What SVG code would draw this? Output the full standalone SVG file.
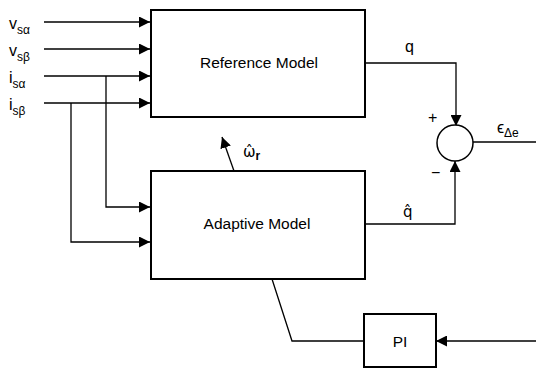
<svg xmlns="http://www.w3.org/2000/svg" width="536" height="368" viewBox="0 0 536 368">
<style>
.box{fill:#fff;stroke:#000;stroke-width:2}
.ln{fill:none;stroke:#000;stroke-width:1.3}
.t{font-family:"Liberation Sans",Arial,sans-serif;font-size:15.5px;fill:#000}
.lb{font-family:"Liberation Sans",Arial,sans-serif;font-size:16px;fill:#000}
.hat{font-family:"DejaVu Sans",sans-serif;font-size:15px;fill:#000}
.sub{font-size:12px}
</style>
<defs>
<marker id="ah" viewBox="0 0 10 10" refX="10" refY="5" markerWidth="11" markerHeight="11" markerUnits="userSpaceOnUse" orient="auto">
<path d="M0,0 L10,5 L0,10 Z" fill="#000"/>
</marker>
</defs>
<g id="connectors">
<line class="ln" x1="44" y1="22" x2="150" y2="22" marker-end="url(#ah)"/>
<line class="ln" x1="44" y1="49" x2="150" y2="49" marker-end="url(#ah)"/>
<line class="ln" x1="44" y1="76" x2="150" y2="76" marker-end="url(#ah)"/>
<line class="ln" x1="44" y1="103" x2="150" y2="103" marker-end="url(#ah)"/>
<polyline class="ln" points="106,76 106,207 150,207" marker-end="url(#ah)"/>
<polyline class="ln" points="71,103 71,242 150,242" marker-end="url(#ah)"/>
<polyline class="ln" points="365,63 456,63 456,126" marker-end="url(#ah)"/>
<polyline class="ln" points="365,224 455,224 455,161" marker-end="url(#ah)"/>
<line class="ln" x1="473" y1="142" x2="536" y2="142"/>
<line class="ln" x1="536" y1="341" x2="436" y2="341" marker-end="url(#ah)"/>
<polyline class="ln" points="364,341 292,341 272,279"/>
<line class="ln" x1="234" y1="171" x2="222" y2="137" marker-end="url(#ah)"/>
</g>
<g id="inputs">
<text class="lb" x="9" y="29">v<tspan class="sub" dy="5">sα</tspan></text>
<text class="lb" x="9" y="56">v<tspan class="sub" dy="5">sβ</tspan></text>
<text class="lb" x="9" y="83">i<tspan class="sub" dy="5">sα</tspan></text>
<text class="lb" x="9" y="110">i<tspan class="sub" dy="5">sβ</tspan></text>
</g>
<g id="reference-model">
<rect class="box" x="151" y="10" width="214" height="107"/>
<text class="t" x="259" y="68" text-anchor="middle">Reference Model</text>
</g>
<g id="adaptive-model">
<rect class="box" x="151" y="171" width="214" height="108"/>
<text class="t" x="257" y="229" text-anchor="middle">Adaptive Model</text>
</g>
<g id="omega-label">
<text class="hat" x="243" y="157">ω̂<tspan font-family="Liberation Sans, Arial, sans-serif" font-size="12px" dy="3" font-weight="bold">r</tspan></text>
</g>
<g id="sum">
<circle cx="455" cy="143" r="18" fill="#fff" stroke="#000" stroke-width="1.5"/>
<text class="lb" x="428" y="123">+</text>
<text class="lb" x="431" y="178">−</text>
<text class="lb" x="405" y="52">q</text>
<text class="hat" x="403" y="217">q̂</text>
<text class="lb" x="497" y="133">ϵ<tspan class="sub" dy="4">Δe</tspan></text>
</g>
<g id="pi">
<rect class="box" x="364" y="314" width="72" height="53"/>
<text class="t" x="400" y="347" text-anchor="middle">PI</text>
</g>
</svg>
